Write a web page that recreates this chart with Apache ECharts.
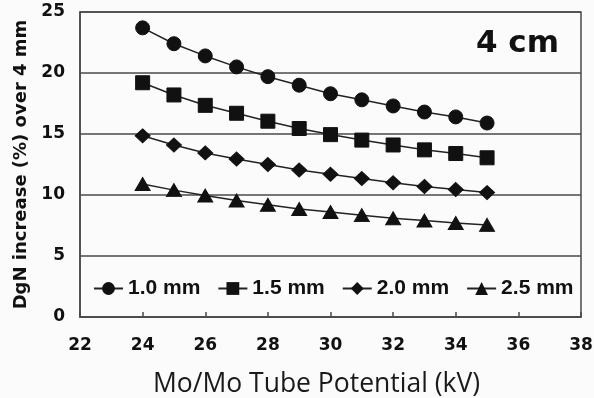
<!DOCTYPE html>
<html>
<head>
<meta charset="utf-8">
<script src="https://cdn.jsdelivr.net/npm/echarts@6/dist/echarts.min.js"></script>
<style>
  html, body { margin: 0; padding: 0; background: #fbfbfb; }
  #chart { width: 594px; height: 398px; }
</style>
</head>
<body>
<div id="chart"></div>
<script>
// Tube potential (kV) for every measured point
const tubeKv = [24, 25, 26, 27, 28, 29, 30, 31, 32, 33, 34, 35];

// DgN increase (%) relative to 4 mm, per compressed thickness label
const dgn10 = [23.7, 22.4, 21.4, 20.5, 19.7, 19.0, 18.3, 17.8, 17.3, 16.8, 16.4, 15.9];
const dgn15 = [19.2, 18.2, 17.35, 16.7, 16.05, 15.45, 14.95, 14.5, 14.1, 13.7, 13.4, 13.05];
const dgn20 = [14.85, 14.1, 13.45, 12.95, 12.5, 12.05, 11.7, 11.35, 11.0, 10.7, 10.45, 10.2];
const dgn25 = [10.9, 10.4, 9.95, 9.55, 9.2, 8.85, 8.6, 8.35, 8.1, 7.9, 7.7, 7.55];

const seriesNames = ['1.0 mm', '1.5 mm', '2.0 mm', '2.5 mm'];
const seriesSymbols = ['circle', 'rect', 'diamond', 'triangle'];
const seriesValues = [dgn10, dgn15, dgn20, dgn25];

const xTicks = [22, 24, 26, 28, 30, 32, 34, 36, 38];
const yTicks = [0, 5, 10, 15, 20, 25];

const panelLabel = '4 cm';
const xTitle = 'Mo/Mo Tube Potential (kV)';
const yTitle = 'DgN increase (%) over 4 mm';

const ink = '#111';
const boldFont = 'DejaVu Sans, sans-serif';
const legendFont = 'Liberation Sans, Arial, sans-serif';

const symbolSizes = {
  circle: 14,
  rect: 14,
  diamond: [15, 14],
  triangle: [15, 13]
};

const chart = echarts.init(document.getElementById('chart'), null, { renderer: 'canvas' });

chart.setOption({
  backgroundColor: '#fbfbfb',
  animation: false,
  title: {
    text: panelLabel,
    right: 30,
    top: 23,
    textStyle: { fontFamily: boldFont, fontWeight: 'bold', fontSize: 31, color: ink }
  },
  grid: {
    left: 80, right: 13, top: 12, bottom: 81,
    containLabel: false,
    outerBoundsMode: 'none',
    show: true,
    borderColor: '#4a4a4a',
    borderWidth: 1.5,
    backgroundColor: 'transparent'
  },
  legend: {
    left: 88,
    top: 273,
    itemWidth: 29,
    itemHeight: 16,
    itemGap: 17,
    data: seriesNames,
    textStyle: { fontFamily: legendFont, fontWeight: 'bold', fontSize: 21, color: ink }
  },
  xAxis: {
    type: 'value',
    min: xTicks[0],
    max: xTicks[xTicks.length - 1],
    interval: 2,
    name: xTitle,
    nameLocation: 'middle',
    nameGap: 54,
    nameTextStyle: { fontFamily: 'Open Sans, sans-serif', fontSize: 26.5, color: '#1a1a1a', padding: [0, 28, 0, 0] },
    axisLine: { show: true, lineStyle: { color: '#4a4a4a', width: 1.5 } },
    axisTick: { show: true, inside: true, length: 5, lineStyle: { color: '#4a4a4a', width: 1.5 } },
    axisLabel: { margin: 20, fontFamily: boldFont, fontWeight: 'bold', fontSize: 17, color: ink },
    splitLine: { show: false }
  },
  yAxis: {
    type: 'value',
    min: yTicks[0],
    max: yTicks[yTicks.length - 1],
    interval: 5,
    name: yTitle,
    nameLocation: 'middle',
    nameGap: 42,
    nameRotate: 90,
    nameTextStyle: { fontFamily: boldFont, fontWeight: 'bold', fontSize: 18, color: ink },
    axisLine: { show: true, lineStyle: { color: '#4a4a4a', width: 1.5 } },
    axisTick: { show: false },
    axisLabel: { margin: 15, fontFamily: boldFont, fontWeight: 'bold', fontSize: 17, color: ink },
    splitLine: { show: true, lineStyle: { color: '#4a4a4a', width: 1.5 } }
  },
  series: seriesNames.map((name, i) => ({
    name: name,
    type: 'line',
    data: tubeKv.map((kv, j) => [kv, seriesValues[i][j]]),
    symbol: seriesSymbols[i],
    symbolSize: symbolSizes[seriesSymbols[i]],
    showAllSymbol: true,
    lineStyle: { color: '#222', width: 1.5 },
    itemStyle: { color: ink, borderColor: ink },
    emphasis: { disabled: true }
  }))
});
</script>
</body>
</html>
